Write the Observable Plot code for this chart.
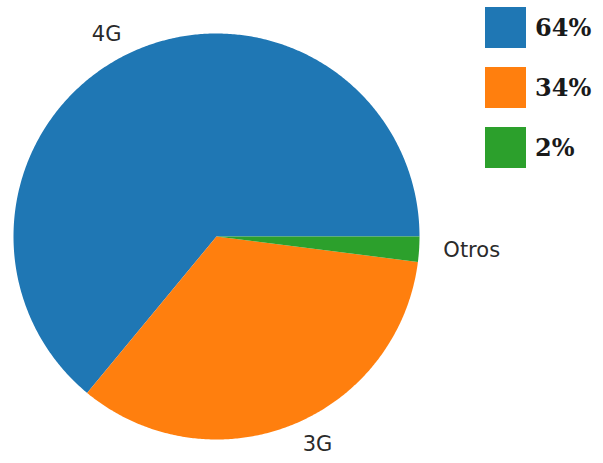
<!DOCTYPE html>
<html>
<head>
<meta charset="utf-8">
<script src="https://cdn.jsdelivr.net/npm/d3@7"></script>
<script src="https://cdn.jsdelivr.net/npm/@observablehq/plot@0.6"></script>
<style>
  html, body { margin: 0; padding: 0; background: #fff; }
  #wrap { position: relative; width: 603px; height: 463px; }
  #legend { position: absolute; left: 485px; top: 7px; }
  .item { position: absolute; left: 0; display: flex; align-items: center; }
  .sw { width: 41px; height: 41px; }
  .lt { margin-left: 9px; font-family: "DejaVu Serif", serif; font-weight: bold; font-size: 24px; color: #1a1a1a; white-space: nowrap; }
</style>
</head>
<body>
<div id="wrap"><div id="chart"></div><div id="legend"></div></div>
<script>
const categories = ["4G", "3G", "Otros"];
const values = [64, 34, 2];
const legendLabels = ["64%", "34%", "2%"];
const colors = ["#1f77b4", "#ff7f0e", "#2ca02c"];

const total = d3.sum(values);
const polys = [];
const labels = [];
let acc = 0;
values.forEach((v, i) => {
  const a0 = acc / total * 2 * Math.PI;
  const a1 = (acc + v) / total * 2 * Math.PI;
  acc += v;
  const n = Math.max(4, Math.ceil((a1 - a0) / (Math.PI / 360)));
  polys.push({cat: categories[i], color: colors[i], x: 0, y: 0});
  for (let k = 0; k <= n; k++) {
    const a = a0 + (a1 - a0) * k / n;
    polys.push({cat: categories[i], color: colors[i], x: Math.cos(a), y: Math.sin(a)});
  }
  polys.push({cat: categories[i], color: colors[i], x: 0, y: 0});
  const am = (a0 + a1) / 2;
  labels.push({text: categories[i], x: 1.1 * Math.cos(am), y: 1.1 * Math.sin(am),
               anchor: Math.cos(am) < 0 ? "end" : "start"});
});

const chart = Plot.plot({
  width: 603,
  height: 463,
  margin: 0,
  x: {domain: [-1, 1], range: [13, 419], axis: null},
  y: {domain: [-1, 1], range: [439, 33], axis: null},
  marks: [
    Plot.line(polys, {x: "x", y: "y", z: "cat", fill: "color", stroke: "none", curve: "linear"}),
    ...labels.map(l => Plot.text([l], {x: "x", y: "y", text: "text", textAnchor: l.anchor,
      dx: l.anchor === "start" ? 4 : 0,
      fontSize: 21, fill: "#2a2a2a", fontFamily: "DejaVu Sans", lineAnchor: "middle"}))
  ]
});
document.getElementById("chart").appendChild(chart);

const leg = document.getElementById("legend");
legendLabels.forEach((t, i) => {
  const d = document.createElement("div");
  d.className = "item";
  d.style.top = (i * 60) + "px";
  d.innerHTML = `<div class="sw" style="background:${colors[i]}"></div><span class="lt">${t}</span>`;
  leg.appendChild(d);
});
</script>
</body>
</html>
